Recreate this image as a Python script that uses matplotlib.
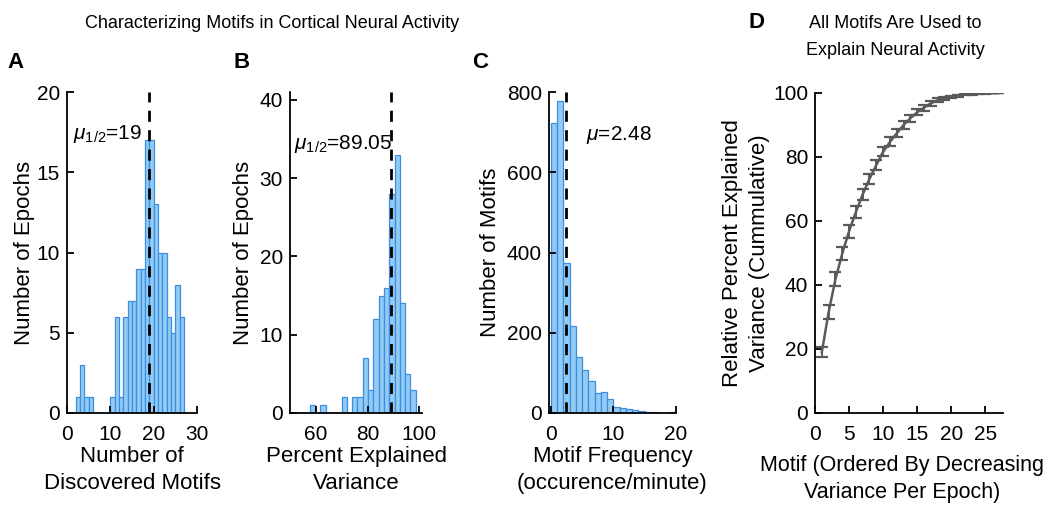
import matplotlib
matplotlib.use("Agg")
import matplotlib.pyplot as plt
import numpy as np

plt.rcParams['font.family'] = ['Liberation Sans', 'DejaVu Sans']
plt.rcParams['mathtext.fontset'] = 'custom'
plt.rcParams['mathtext.it'] = 'Liberation Sans:italic'
plt.rcParams['mathtext.rm'] = 'Liberation Sans'

# ---- Panel A: number of discovered motifs per epoch ----
a_edge_start = 2
a_bin_width = 1
a_counts = [1, 3, 1, 1, 0, 0, 0, 0, 1, 6, 1, 6, 7, 7, 9, 9, 17, 17, 13, 10, 10, 6, 5, 8, 6]
a_median = 19

# ---- Panel B: percent explained variance ----
b_edge_start = 57.6
b_bin_width = 2.05
b_counts = [1, 0, 1, 0, 0, 0, 2, 0, 2, 2, 7, 3, 12, 15, 16, 28, 33, 14, 5, 3]
b_median = 89.05

# ---- Panel C: motif frequency ----
c_edge_start = 0
c_bin_width = 1
c_counts = [722, 778, 374, 218, 139, 106, 79, 50, 52, 35, 15, 13, 10, 8, 5, 3, 2, 1, 1, 2]
c_mean = 2.48

# ---- Panel D: cumulative explained variance ----
d_motif = list(range(1, 28))
d_mean = [19.0, 31.5, 41.8, 49.8, 56.8, 62.8, 68.3, 73.2, 77.5, 81.6, 84.7, 87.4, 90.0,
          92.1, 94.0, 95.4, 96.8, 97.7, 98.3, 98.8, 99.2, 99.5, 99.7, 99.8, 99.9, 99.95, 100.0]
d_err = [1.5, 2.1, 2.2, 2.0, 2.0, 1.9, 1.7, 1.6, 1.6, 1.4, 1.4, 1.3, 1.2, 1.1, 1.0, 0.9,
         0.8, 0.6, 0.5, 0.4, 0.3, 0.2, 0.2, 0.1, 0.1, 0.05, 0.0]

FACE = '#93cbf4'
EDGE = '#3b8fe3'
TICK_FS = 15
LAB_FS = 16
LS = 1.4

W, H = 1050, 509
fig = plt.figure(figsize=(W / 100, H / 100), dpi=100)


def box(l, r, t, b):
    return [l / W, (H - b) / H, (r - l) / W, (b - t) / H]


def style(ax):
    for s in ['top', 'right']:
        ax.spines[s].set_visible(False)
    for s in ['left', 'bottom']:
        ax.spines[s].set_linewidth(1.3)
    ax.tick_params(direction='in', length=5, width=1.3, labelsize=TICK_FS, pad=5)
    ax.tick_params(axis='x', pad=9)


def hist(ax, start, width, counts):
    edges = start + width * np.arange(len(counts))
    ax.bar(edges, counts, width=width, align='edge', color=FACE,
           edgecolor=EDGE, linewidth=0.9)


axA = fig.add_axes(box(67, 197, 92, 413))
hist(axA, a_edge_start, a_bin_width, a_counts)
axA.set_xlim(0, 30)
axA.set_ylim(0, 20)
axA.plot([a_median, a_median], [0, 20], color='black', ls=(0, (4, 3)), lw=2)
axA.set_xticks([0, 10, 20, 30])
axA.set_yticks([0, 5, 10, 15, 20])
axA.text(1.3, 17.4, r'$\mu_{1/2}$=19', fontsize=15, va='center', ha='left')
axA.set_ylabel('Number of Epochs', fontsize=LAB_FS, labelpad=1)
axA.set_xlabel('Number of\nDiscovered Motifs', fontsize=LAB_FS, labelpad=1, linespacing=LS)
style(axA)

axB = fig.add_axes(box(290, 422, 92, 413))
hist(axB, b_edge_start, b_bin_width, b_counts)
axB.set_xlim(50, 101)
axB.set_ylim(0, 41)
axB.plot([b_median, b_median], [0, 41], color='black', ls=(0, (4, 3)), lw=2)
axB.set_xticks([60, 80, 100])
axB.set_yticks([0, 10, 20, 30, 40])
axB.text(51.5, 34.3, r'$\mu_{1/2}$=89.05', fontsize=15, va='center', ha='left')
axB.set_ylabel('Number of Epochs', fontsize=LAB_FS, labelpad=4)
axB.set_xlabel('Percent Explained\nVariance', fontsize=LAB_FS, labelpad=1, linespacing=LS)
style(axB)

axC = fig.add_axes(box(549, 676, 92, 413))
hist(axC, c_edge_start, c_bin_width, c_counts)
axC.set_xlim(-0.3, 20)
axC.set_ylim(0, 800)
axC.plot([c_mean, c_mean], [0, 800], color='black', ls=(0, (4, 3)), lw=2)
axC.set_xticks([0, 10, 20])
axC.set_yticks([0, 200, 400, 600, 800])
axC.text(5.6, 693, r'$\mu$=2.48', fontsize=15, va='center', ha='left')
axC.set_ylabel('Number of Motifs', fontsize=LAB_FS, labelpad=4)
axC.set_xlabel('Motif Frequency\n(occurence/minute)', fontsize=LAB_FS, labelpad=1, linespacing=LS)
style(axC)

axD = fig.add_axes(box(815, 1003, 93, 413))
axD.errorbar(d_motif, d_mean, yerr=d_err, color='#5a5a5a', lw=1.8,
             elinewidth=1.4, capsize=4, capthick=1.6)
axD.set_xlim(0, 27.6)
axD.set_ylim(0, 100)
axD.set_xticks([0, 5, 10, 15, 20, 25])
axD.set_yticks([0, 20, 40, 60, 80, 100])
axD.set_ylabel('Relative Percent Explained\nVariance (Cummulative)', fontsize=LAB_FS,
               labelpad=2, linespacing=LS)
axD.set_xlabel('Motif (Ordered By Decreasing\nVariance Per Epoch)', fontsize=15.5,
               linespacing=LS)
style(axD)
axD.xaxis.set_label_coords((902 - 815) / 188, -(455 - 413) / 320)

fig.text(272 / W, 1 - 23 / H, 'Characterizing Motifs in Cortical Neural Activity',
         fontsize=13, ha='center', va='center')
fig.text(895 / W, 1 - 37 / H, 'All Motifs Are Used to\nExplain Neural Activity',
         fontsize=13, ha='center', va='center', linespacing=1.7)
for lab, x, y in [('A', 16, 62), ('B', 242, 62), ('C', 480, 62), ('D', 757, 22)]:
    fig.text(x / W, 1 - y / H, lab, fontsize=16, fontweight='bold', ha='center', va='center')

fig.savefig('out.png', dpi=100)
